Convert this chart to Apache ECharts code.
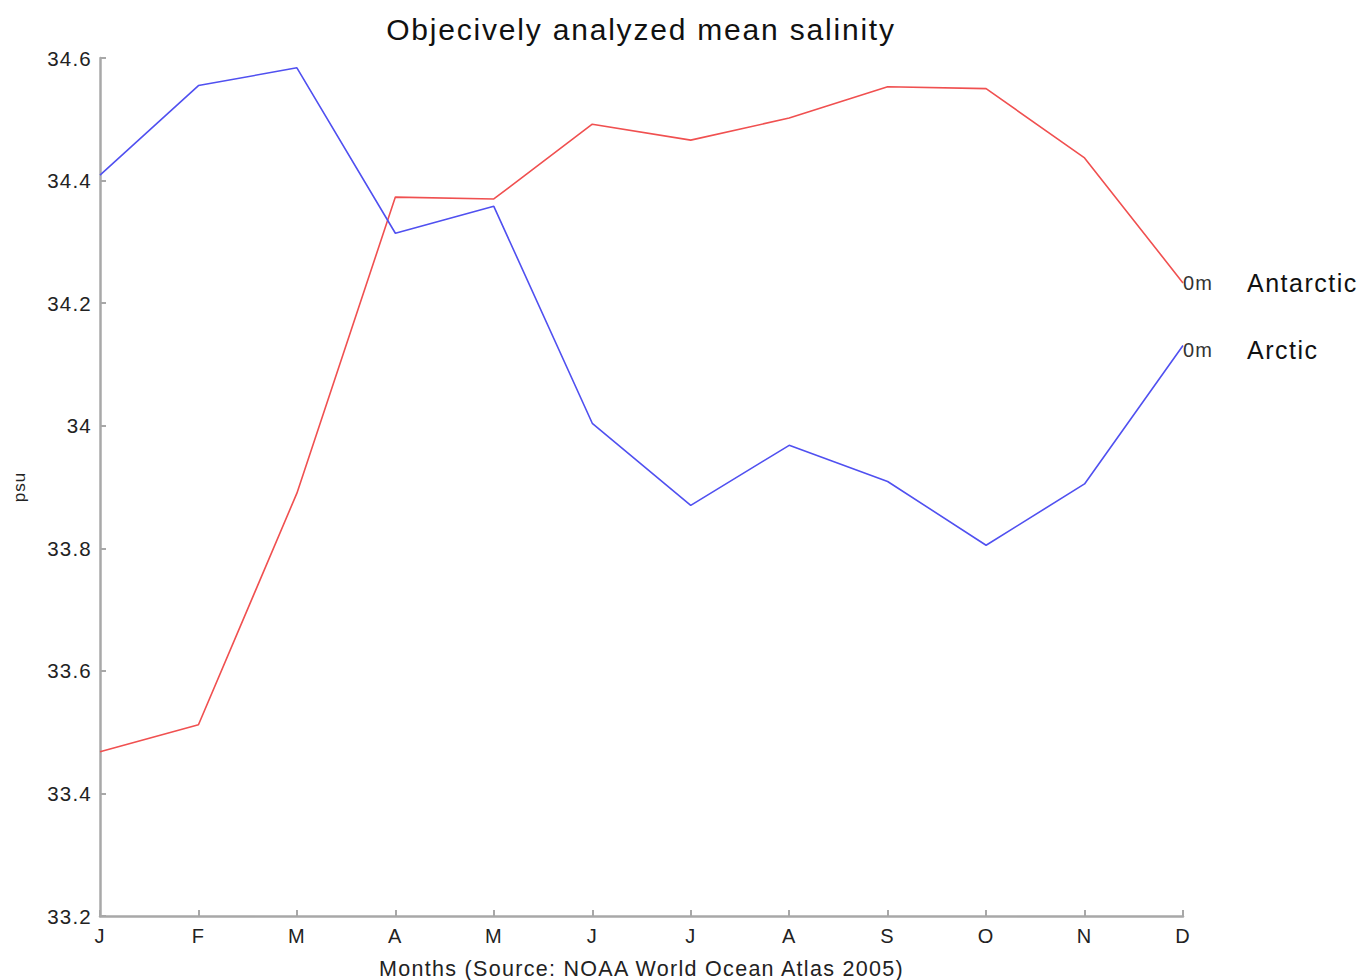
<!DOCTYPE html>
<html><head><meta charset="utf-8">
<script src="https://cdn.jsdelivr.net/npm/echarts@6/dist/echarts.min.js"></script>
<style>html,body{margin:0;padding:0;background:#fff}#c{width:1360px;height:980px}#c text{letter-spacing:0.06em}</style>
</head><body><div id="c"></div>
<script>
const months = ['J','F','M','A','M','J','J','A','S','O','N','D'];
const arctic = [34.409, 34.555, 34.584, 34.314, 34.358, 34.004, 33.870, 33.968, 33.909, 33.805, 33.905, 34.131];
const antarctic = [33.468, 33.512, 33.890, 34.373, 34.370, 34.492, 34.466, 34.502, 34.553, 34.550, 34.437, 34.233];
const yTicks = {min: 33.2, max: 34.6, interval: 0.2};

const chart = echarts.init(document.getElementById('c'), null, {renderer: 'svg'});
const font = 'Liberation Sans, Arial, sans-serif';
function endLbl(name, dy){
  return {
    show: true, distance: 0, offset: [0, dy],
    formatter: '{a|0m}{b|' + name + '}',
    rich: {
      a: {fontFamily: font, fontSize: 20, color: '#333', width: 64},
      b: {fontFamily: font, fontSize: 25, color: '#111'}
    }
  };
}
chart.setOption({
  animation: false,
  title: {text: 'Objecively analyzed mean salinity', left: 636, textAlign: 'center', top: 9,
    textStyle: {fontFamily: font, fontSize: 30, fontWeight: 'normal', color: '#111'}},
  grid: {left: 100, right: 177, top: 58, bottom: 64, containLabel: false, outerBoundsMode: 'none'},
  xAxis: {
    type: 'category', data: months, boundaryGap: false,
    name: 'Months (Source: NOAA World Ocean Atlas 2005)', nameLocation: 'middle', nameGap: 42,
    nameTextStyle: {fontFamily: font, fontSize: 21.5, color: '#222'},
    axisLine: {lineStyle: {color: '#a8a8a8', width: 2.5}},
    axisTick: {inside: true, length: 6, lineStyle: {color: '#a8a8a8', width: 2}},
    axisLabel: {fontFamily: font, fontSize: 20, color: '#222', margin: 10},
    splitLine: {show: false}
  },
  yAxis: {
    type: 'value', min: yTicks.min, max: yTicks.max, interval: yTicks.interval,
    name: 'psu', nameLocation: 'middle', nameGap: 72, nameRotate: 90,
    nameTextStyle: {fontFamily: font, fontSize: 17, color: '#222'},
    axisLine: {show: true, lineStyle: {color: '#a8a8a8', width: 2.5}},
    axisTick: {show: true, inside: true, length: 6, lineStyle: {color: '#a8a8a8', width: 2}},
    axisLabel: {fontFamily: font, fontSize: 20.5, color: '#222', margin: 8,
      formatter: v => String(Math.round(v*10)/10)},
    splitLine: {show: false}
  },
  series: [
    {name: 'Antarctic', type: 'line', data: antarctic, symbol: 'none',
      lineStyle: {color: '#f05050', width: 1.6}, itemStyle: {color: '#f05050'},
      endLabel: endLbl('Antarctic', 0)},
    {name: 'Arctic', type: 'line', data: arctic, symbol: 'none',
      lineStyle: {color: '#5050f0', width: 1.6}, itemStyle: {color: '#5050f0'},
      endLabel: endLbl('Arctic', 5)}
  ]
});
</script></body></html>
